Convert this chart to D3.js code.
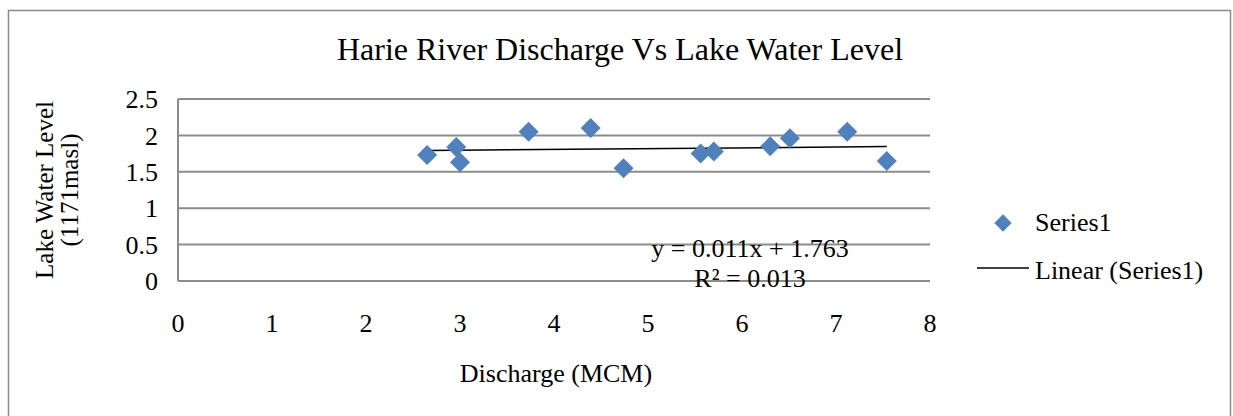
<!DOCTYPE html>
<html>
<head>
<meta charset="utf-8">
<script src="https://cdn.jsdelivr.net/npm/d3@7"></script>
<style>
  html, body { margin: 0; padding: 0; background: #fff; }
  text { font-family: "Liberation Serif", "Times New Roman", serif; fill: #000; }
</style>
</head>
<body>
<div id="chart"></div>
<script>
// --- data
const discharge = [2.65, 2.96, 3.0, 3.73, 4.39, 4.74, 5.56, 5.7, 6.3, 6.51, 7.12, 7.54];
const lakeLevel = [1.73, 1.84, 1.63, 2.05, 2.10, 1.55, 1.75, 1.78, 1.85, 1.96, 2.05, 1.65];
const xTicks = [0, 1, 2, 3, 4, 5, 6, 7, 8];
const yTicks = [0, 0.5, 1, 1.5, 2, 2.5];
const trendSlope = 0.011;
const trendIntercept = 1.763;
const trendLabel = ["y = 0.011x + 1.763", "R² = 0.013"];

const width = 1233, height = 416;
const blue = "#4F81BD";
const fs = 26;

const svg = d3.select("#chart").append("svg")
  .attr("width", width).attr("height", height);

// chart frame
svg.append("rect")
  .attr("x", 8.5).attr("y", 10.5)
  .attr("width", 1222).attr("height", 420)
  .attr("fill", "#fff").attr("stroke", "#8c8c8c").attr("stroke-width", 1.5);

const x = d3.scaleLinear().domain([0, 8]).range([178, 930]);
const y = d3.scaleLinear().domain([0, 2.5]).range([281, 99]);

// gridlines
svg.append("g").selectAll("line").data(yTicks).join("line")
  .attr("x1", x(0)).attr("x2", x(8))
  .attr("y1", d => y(d)).attr("y2", d => y(d))
  .attr("stroke", "#8c8c8c").attr("stroke-width", 2);

// left axis line
svg.append("line")
  .attr("x1", x(0)).attr("x2", x(0)).attr("y1", y(0)).attr("y2", y(2.5))
  .attr("stroke", "#8c8c8c").attr("stroke-width", 2);

// y tick labels
svg.append("g").selectAll("text").data(yTicks).join("text")
  .attr("x", 158).attr("y", d => y(d))
  .attr("dy", "0.35em").attr("text-anchor", "end")
  .attr("font-size", fs)
  .text(d => d);

// x tick labels
svg.append("g").selectAll("text").data(xTicks).join("text")
  .attr("x", d => x(d)).attr("y", 323)
  .attr("dy", "0.35em").attr("text-anchor", "middle")
  .attr("font-size", fs)
  .text(d => d);

// title
svg.append("text")
  .attr("x", 620).attr("y", 60).attr("text-anchor", "middle")
  .attr("font-size", 32)
  .text("Harie River Discharge Vs Lake Water Level");

// axis titles
svg.append("text")
  .attr("x", 556).attr("y", 382).attr("text-anchor", "middle")
  .attr("font-size", fs)
  .text("Discharge (MCM)");

const yTitle = svg.append("text")
  .attr("transform", "translate(53,190) rotate(-90)")
  .attr("text-anchor", "middle").attr("font-size", 25);
yTitle.append("tspan").attr("x", 0).attr("dy", 0).text("Lake Water Level");
yTitle.append("tspan").attr("x", 0).attr("dy", 25).text("(1171masl)");

// trendline
const xmin = d3.min(discharge), xmax = d3.max(discharge);
svg.append("line")
  .attr("x1", x(xmin)).attr("y1", y(trendSlope * xmin + trendIntercept))
  .attr("x2", x(xmax)).attr("y2", y(trendSlope * xmax + trendIntercept))
  .attr("stroke", "#000").attr("stroke-width", 1.5);

// points
const diamond = d3.symbol().type(d3.symbolSquare).size(200);
svg.append("g").selectAll("path").data(discharge).join("path")
  .attr("d", diamond)
  .attr("transform", (d, i) => `translate(${x(d)},${y(lakeLevel[i])}) rotate(45)`)
  .attr("fill", blue);

// equation label
svg.append("g").selectAll("text").data(trendLabel).join("text")
  .attr("x", 750).attr("y", (d, i) => 248 + i * 30)
  .attr("dy", "0.35em").attr("text-anchor", "middle")
  .attr("font-size", fs)
  .text(d => d);

// legend
svg.append("path")
  .attr("d", d3.symbol().type(d3.symbolSquare).size(150))
  .attr("transform", "translate(1003,223) rotate(45)")
  .attr("fill", blue);
svg.append("text").attr("x", 1035).attr("y", 222).attr("dy", "0.35em")
  .attr("font-size", fs).text("Series1");
svg.append("line")
  .attr("x1", 977).attr("x2", 1029).attr("y1", 268).attr("y2", 268)
  .attr("stroke", "#000").attr("stroke-width", 1.5);
svg.append("text").attr("x", 1035).attr("y", 270).attr("dy", "0.35em")
  .attr("font-size", fs).text("Linear (Series1)");
</script>
</body>
</html>
